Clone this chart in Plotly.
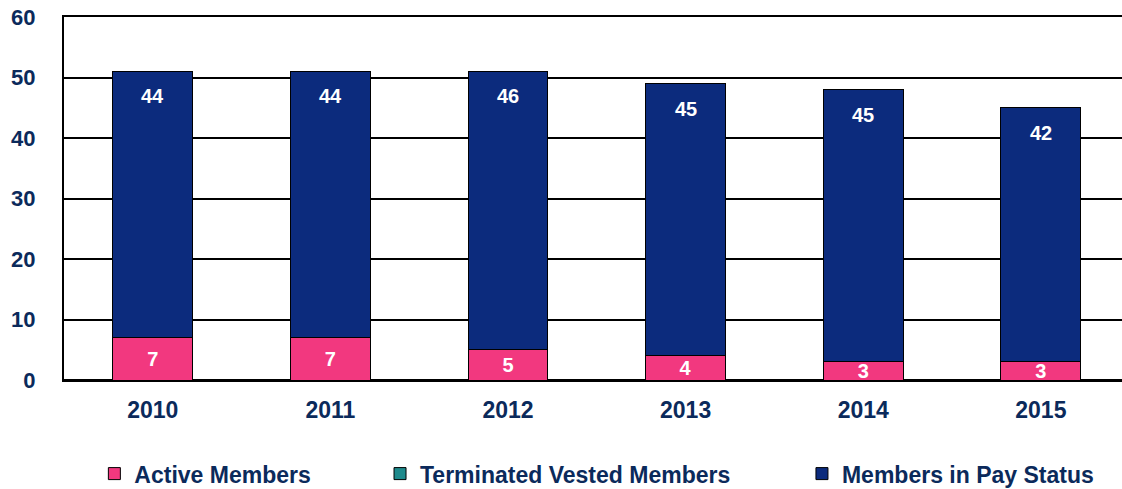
import plotly.graph_objects as go

years = ["2010", "2011", "2012", "2013", "2014", "2015"]
active = [7, 7, 5, 4, 3, 3]
terminated = [0, 0, 0, 0, 0, 0]
pay_status = [44, 44, 46, 45, 45, 42]

PINK = "#F2387F"
TEAL = "#1E8A8C"
NAVY = "#0C2B7D"
TEXT = "#0B2A5B"
FONT = "Liberation Sans, Arial, sans-serif"

fig = go.Figure()
fig.add_trace(go.Bar(
    x=years, y=active, name="Active Members",
    marker=dict(color=PINK, line=dict(color="black", width=1)),
    text=[str(v) for v in active], textposition="inside", insidetextanchor="middle",
    textangle=0,
    textfont=dict(color="white", size=20, family=FONT, weight="bold"), legend="legend",
))
fig.add_trace(go.Bar(
    x=years, y=terminated, name="Terminated Vested Members",
    marker=dict(color=TEAL, line=dict(color="black", width=1)),
    legend="legend2",
))
fig.add_trace(go.Bar(
    x=years, y=pay_status, name="Members in Pay Status",
    marker=dict(color=NAVY, line=dict(color="black", width=1)),
    legend="legend3",
))

# value labels for the top segment, placed from the data (x = category index)
for i, (a, t, p) in enumerate(zip(active, terminated, pay_status)):
    fig.add_annotation(x=i, y=a + t + p, yshift=-25, text=str(p), showarrow=False,
                       font=dict(color="white", size=20, family=FONT, weight="bold"))

legend_common = dict(orientation="h", yanchor="middle", y=-0.258, xanchor="left",
                     font=dict(family=FONT, size=23, color=TEXT, weight="bold"),
                     bgcolor="rgba(0,0,0,0)")

fig.update_layout(
    width=1122, height=489,
    margin=dict(l=64, r=0, t=17, b=109, autoexpand=False),
    barmode="stack", bargap=0.55,
    plot_bgcolor="white", paper_bgcolor="white",
    font=dict(family=FONT, color=TEXT),
    showlegend=True,
    uniformtext=dict(minsize=20, mode="show"),
    legend=dict(x=0.0287, **legend_common),
    legend2=dict(x=0.2987, **legend_common),
    legend3=dict(x=0.6975, **legend_common),
    xaxis=dict(type="category", range=[-0.5, 5.457], automargin=False,
               showline=True, mirror=True,
               linecolor="black", linewidth=2, ticks="", ticklabelstandoff=8,
               tickfont=dict(family=FONT, size=23, color=TEXT, weight="bold")),
    yaxis=dict(automargin=False, range=[0, 60], dtick=10, showgrid=True, gridcolor="black",
               gridwidth=2, showline=True, linecolor="black", linewidth=2, zeroline=True,
               zerolinecolor="black", zerolinewidth=2, ticks="", ticklabelstandoff=22,
               tickfont=dict(family=FONT, size=22, color=TEXT, weight="bold")),
)

fig.write_html("out.html", config={"displayModeBar": False},
               post_script="document.body.style.margin='0';document.body.style.padding='0';"
                           "document.body.style.overflow='hidden';")
